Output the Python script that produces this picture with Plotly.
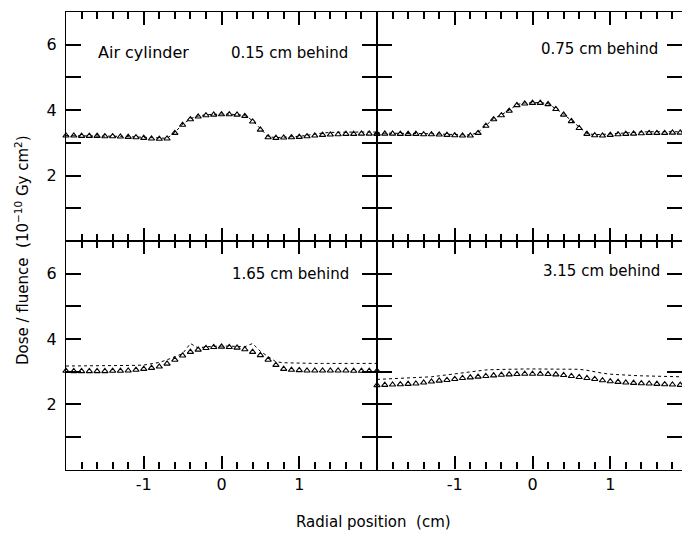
import plotly.graph_objects as go

# Radial sampling positions (cm)
RADIAL = [-2.0, -1.9, -1.8, -1.7, -1.6, -1.5, -1.4, -1.3, -1.2, -1.1, -1.0,
          -0.9, -0.8, -0.7, -0.6, -0.5, -0.4, -0.3, -0.2, -0.1, 0.0,
          0.1, 0.2, 0.3, 0.4, 0.5, 0.6, 0.7, 0.8, 0.9, 1.0,
          1.1, 1.2, 1.3, 1.4, 1.5, 1.6, 1.7, 1.8, 1.9, 2.0]

# Dose / fluence (1e-10 Gy cm^2), measured (triangles) and calculated (dashed)
MEAS_015 = [3.22, 3.22, 3.21, 3.21, 3.21, 3.20, 3.20, 3.19, 3.18, 3.17, 3.15,
            3.13, 3.12, 3.13, 3.30, 3.55, 3.72, 3.80, 3.84, 3.86, 3.87,
            3.87, 3.86, 3.82, 3.65, 3.40, 3.17, 3.15, 3.16, 3.17, 3.18,
            3.20, 3.22, 3.24, 3.25, 3.26, 3.27, 3.27, 3.28, 3.28, 3.27]
CALC_015 = [3.22, 3.22, 3.22, 3.21, 3.21, 3.21, 3.20, 3.20, 3.19, 3.18, 3.16,
            3.14, 3.13, 3.14, 3.32, 3.57, 3.74, 3.82, 3.86, 3.88, 3.88,
            3.88, 3.87, 3.84, 3.68, 3.42, 3.19, 3.16, 3.17, 3.18, 3.20,
            3.23, 3.27, 3.30, 3.32, 3.33, 3.33, 3.33, 3.33, 3.33, 3.33]

MEAS_075 = [3.28, 3.28, 3.28, 3.27, 3.27, 3.27, 3.26, 3.26, 3.25, 3.24, 3.23,
            3.22, 3.22, 3.30, 3.52, 3.72, 3.84, 3.98, 4.15, 4.20, 4.22,
            4.22, 4.18, 4.03, 3.86, 3.66, 3.45, 3.27, 3.23, 3.22, 3.24,
            3.26, 3.27, 3.28, 3.29, 3.30, 3.30, 3.30, 3.31, 3.31, 3.31]
CALC_075 = [3.30, 3.30, 3.30, 3.29, 3.29, 3.29, 3.28, 3.28, 3.27, 3.26, 3.25,
            3.24, 3.24, 3.32, 3.54, 3.74, 3.86, 4.00, 4.17, 4.22, 4.23,
            4.23, 4.20, 4.05, 3.88, 3.68, 3.47, 3.29, 3.25, 3.25, 3.27,
            3.29, 3.31, 3.32, 3.33, 3.34, 3.34, 3.34, 3.34, 3.34, 3.34]

MEAS_165 = [3.02, 3.01, 3.01, 3.01, 3.01, 3.01, 3.02, 3.02, 3.03, 3.05, 3.08,
            3.11, 3.15, 3.24, 3.36, 3.49, 3.60, 3.67, 3.72, 3.75, 3.76,
            3.75, 3.73, 3.68, 3.60, 3.50, 3.36, 3.20, 3.08, 3.05, 3.04,
            3.03, 3.03, 3.03, 3.03, 3.03, 3.03, 3.02, 3.02, 3.02, 3.02]
CALC_165 = [3.17, 3.17, 3.17, 3.17, 3.17, 3.17, 3.17, 3.18, 3.18, 3.19, 3.20,
            3.23, 3.28, 3.36, 3.45, 3.55, 3.86, 3.72, 3.76, 3.78, 3.78,
            3.78, 3.77, 3.76, 3.86, 3.62, 3.46, 3.30, 3.27, 3.26, 3.26,
            3.26, 3.25, 3.25, 3.25, 3.25, 3.25, 3.25, 3.25, 3.25, 3.25]

MEAS_315 = [2.58, 2.59, 2.60, 2.61, 2.62, 2.63, 2.66, 2.69, 2.72, 2.74, 2.77,
            2.80, 2.82, 2.84, 2.86, 2.88, 2.90, 2.91, 2.92, 2.93, 2.93,
            2.93, 2.92, 2.91, 2.89, 2.86, 2.83, 2.80, 2.77, 2.73, 2.70,
            2.68, 2.66, 2.65, 2.64, 2.63, 2.62, 2.61, 2.60, 2.59, 2.58]
CALC_315 = [2.76, 2.77, 2.77, 2.78, 2.79, 2.80, 2.82, 2.84, 2.87, 2.90, 2.93,
            2.96, 2.99, 3.03, 3.05, 3.06, 3.07, 3.08, 3.08, 3.08, 3.08,
            3.08, 3.08, 3.08, 3.08, 3.08, 3.07, 3.04, 2.99, 2.95, 2.92,
            2.90, 2.89, 2.88, 2.87, 2.86, 2.86, 2.85, 2.85, 2.84, 2.84]

PANELS = [
    # (measured, calculated, depth label, x axis id, y axis id)
    (MEAS_015, CALC_015, "0.15 cm behind", "x", "y"),
    (MEAS_075, CALC_075, "0.75 cm behind", "x2", "y2"),
    (MEAS_165, CALC_165, "1.65 cm behind", "x3", "y3"),
    (MEAS_315, CALC_315, "3.15 cm behind", "x4", "y4"),
]

NBSP = "\u00a0"
Y_TICKS = [1, 2, 3, 4, 5, 6]
Y_TEXT = ["", "2" + NBSP, "", "4" + NBSP, "", "6" + NBSP]
X_TICKS = [-2, -1, 0, 1, 2]
X_TEXT = ["", "-1", "0", "1", ""]
X_MINOR = [-1.8, -1.6, -1.4, -1.2, -0.8, -0.6, -0.4, -0.2,
           0.2, 0.4, 0.6, 0.8, 1.2, 1.4, 1.6, 1.8]

W, H = 682, 533
FONT = "DejaVu Sans"

# Panel frame in pixels
LEFT, MID_X, TOP, MID_Y, BOTTOM = 66, 377, 12, 241, 469.5
UNIT_X = (MID_X - LEFT) / 4.0
RIGHT_MAX = -2 + (W - MID_X) / UNIT_X

fig = go.Figure()
for meas, calc, label, xa, ya in PANELS:
    fig.add_trace(go.Scatter(
        x=RADIAL, y=calc, xaxis=xa, yaxis=ya, mode="lines",
        line=dict(color="black", width=1, dash="3px,3px"),
        cliponaxis=False, showlegend=False))
    fig.add_trace(go.Scatter(
        x=RADIAL, y=meas, xaxis=xa, yaxis=ya, mode="markers",
        marker=dict(symbol="triangle-up-open", size=5.5, color="black",
                    line=dict(color="black", width=1.1)),
        cliponaxis=False, showlegend=False))


def xaxis(domain, rng, labels, anchor):
    return dict(
        domain=domain, range=rng, anchor=anchor,
        showgrid=False, zeroline=False,
        showline=True, linecolor="black", linewidth=1.2, mirror="ticks",
        ticks="inside", ticklen=13, tickwidth=2, tickcolor="black",
        tickmode="array", tickvals=X_TICKS, ticktext=X_TEXT,
        showticklabels=labels,
        tickfont=dict(family=FONT, size=16, color="black"),
        minor=dict(tickmode="array", tickvals=X_MINOR, ticks="inside",
                   ticklen=7, tickwidth=2, tickcolor="black",
                   showgrid=False),
    )


def yaxis(domain, labels, anchor):
    return dict(
        domain=domain, range=[0, 7], anchor=anchor,
        showgrid=False, zeroline=False,
        showline=True, linecolor="black", linewidth=1.2, mirror="ticks",
        ticks="inside", ticklen=15, tickwidth=2, tickcolor="black",
        tickmode="array", tickvals=Y_TICKS, ticktext=Y_TEXT,
        showticklabels=labels,
        tickfont=dict(family=FONT, size=16, color="black"),
    )


xl = [LEFT / W, MID_X / W]
xr = [MID_X / W, 1.0]
yt = [(H - MID_Y) / H, (H - TOP) / H]
yb = [(H - BOTTOM) / H, (H - MID_Y) / H]

fig.update_layout(
    width=W, height=H, margin=dict(l=0, r=0, t=0, b=0),
    paper_bgcolor="white", plot_bgcolor="rgba(0,0,0,0)",
    xaxis=xaxis(xl, [-2, 2], False, "y"),
    yaxis=yaxis(yt, True, "x"),
    xaxis2=xaxis(xr, [-2, RIGHT_MAX], False, "y2"),
    yaxis2=yaxis(yt, False, "x2"),
    xaxis3=xaxis(xl, [-2, 2], True, "y3"),
    yaxis3=yaxis(yb, True, "x3"),
    xaxis4=xaxis(xr, [-2, RIGHT_MAX], True, "y4"),
    yaxis4=yaxis(yb, False, "x4"),
)

ann_font = dict(family=FONT, size=15, color="black")
annotations = [
    dict(text="Air cylinder", x=-1.62, y=5.75, xref="x", yref="y",
         xanchor="left", yanchor="middle", showarrow=False,
         font=dict(family=FONT, size=16, color="black")),
]
label_pos = [(1.65, 5.75), (1.64, 5.87), (1.67, 5.98), (1.67, 6.07)]
for (meas, calc, label, xa, ya), (lx, ly) in zip(PANELS, label_pos):
    annotations.append(dict(text=label, x=lx, y=ly, xref=xa, yref=ya,
                            xanchor="right", yanchor="middle",
                            showarrow=False, font=ann_font))

annotations.append(dict(
    text="Dose / fluence" + NBSP * 2 + "(10<sup>\u221210</sup> Gy cm<sup>2</sup>)",
    x=22 / W, y=(H - 250) / H, xref="paper", yref="paper",
    xanchor="center", yanchor="middle", textangle=-90, showarrow=False,
    font=dict(family=FONT, size=15, color="black")))
annotations.append(dict(
    text="Radial position" + NBSP * 2 + "(cm)",
    x=374 / W, y=(H - 522) / H, xref="paper", yref="paper",
    xanchor="center", yanchor="middle", showarrow=False,
    font=dict(family=FONT, size=15, color="black")))

fig.update_layout(annotations=annotations)
fig.write_html("out.html")
